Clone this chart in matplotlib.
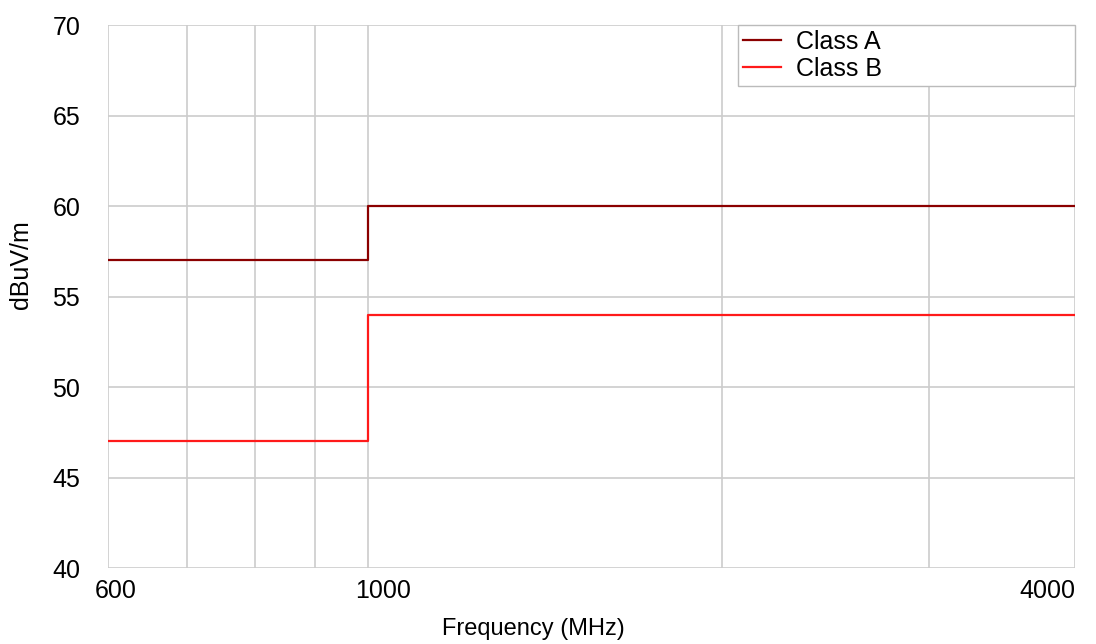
import matplotlib.pyplot as plt
from matplotlib.transforms import ScaledTranslation

# limit lines (step after each breakpoint)
freq = [600, 1000, 4000]
class_a = [57, 60, 60]
class_b = [47, 54, 54]

grid_x = [700, 800, 900, 1000, 2000, 3000]
x_ticks = [600, 1000, 4000]
y_ticks = [40, 45, 50, 55, 60, 65, 70]

plt.rcParams['font.family'] = ['Liberation Sans', 'DejaVu Sans']

fig = plt.figure(figsize=(10.96, 6.44), dpi=100)
ax = fig.add_axes([0.0985, 0.118, 0.8825, 0.843])

ax.step(freq, class_a, where='post', color='#8b0000', lw=1.6, label='Class A')
ax.step(freq, class_b, where='post', color='#ff1a1a', lw=1.6, label='Class B')

ax.set_xscale('log')
ax.set_xlim(600, 4000)
ax.set_ylim(40, 70)

ax.set_xticks(x_ticks)
ax.set_xticklabels([str(t) for t in x_ticks])
ax.set_xticks(grid_x, minor=True)
ax.xaxis.set_minor_formatter(plt.NullFormatter())
ax.set_yticks(y_ticks)

ax.tick_params(which='both', length=0, labelsize=18, colors='black')
ax.tick_params(axis='y', pad=20)
ax.tick_params(axis='x', pad=8)

# labels sit a bit left of their grid line, last one kept inside the plot
shift = ScaledTranslation(-0.13, 0, fig.dpi_scale_trans)
for t in ax.get_xticklabels():
    if t.get_text() == '4000':
        t.set_horizontalalignment('right')
    else:
        t.set_horizontalalignment('left')
        t.set_transform(t.get_transform() + shift)

ax.grid(True, which='both', color='#cccccc', lw=1.2)
ax.set_axisbelow(True)
for s in ax.spines.values():
    s.set_visible(False)

ax.set_xlabel('Frequency (MHz)', fontsize=17)
ax.set_ylabel('dBuV/m', fontsize=18)
ax.xaxis.set_label_coords(0.44, -0.092)
ax.yaxis.set_label_coords(-0.077, 0.558)

leg = ax.legend(loc='upper left', fontsize=18, frameon=True, fancybox=False,
                edgecolor='#bbbbbb', framealpha=1, borderaxespad=0,
                bbox_to_anchor=(0.6515, 0.889, 0.3485, 0.111), mode='expand',
                handlelength=1.5, borderpad=0.2, labelspacing=0.1,
                handletextpad=0.6)
leg.get_frame().set_linewidth(1.0)

fig.savefig('out.png', dpi=100)
